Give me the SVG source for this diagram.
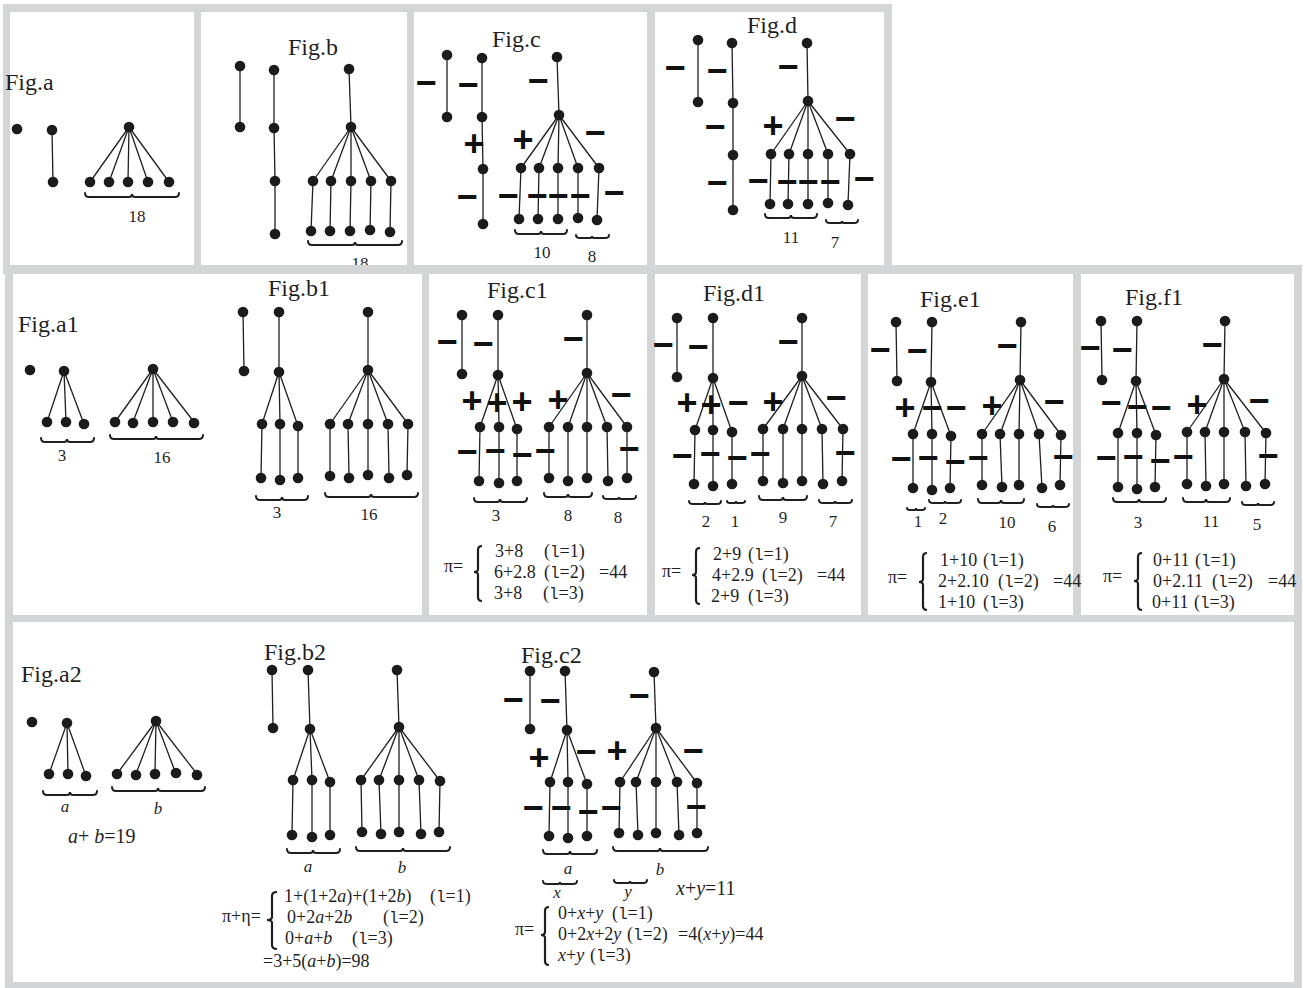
<svg xmlns="http://www.w3.org/2000/svg" width="1307" height="988" viewBox="0 0 1307 988">
<style>
.d{fill:#1b1b1b}
.e{stroke:#1f1f1f;stroke-width:1.3;fill:none}
.br{fill:none;stroke:#1f1f1f;stroke-width:2;stroke-linecap:round}
.cb{fill:none;stroke:#1f1f1f;stroke-width:2.2}
.bd{fill:#d4d5d7}
text{font-family:"Liberation Serif","Times New Roman",serif;fill:#1f1f1f}
.fig{font-size:24px}
.n{font-size:17px;text-anchor:middle}
.s{font-family:"Liberation Sans",Arial,sans-serif;font-weight:bold;font-size:36px;text-anchor:middle;fill:#111}
.f{font-size:18px}
.g{font-size:20px}
.m{font-family:"Liberation Mono","Courier New",monospace;font-size:16px}
.i{font-style:italic}
</style>
<defs>
<clipPath id="clipTop"><rect x="0" y="0" width="1307" height="265"/></clipPath>
</defs>
<rect x="0" y="0" width="1307" height="988" fill="#ffffff"/>
<g id="panels">
<rect class="bd" x="3" y="4" width="889" height="8"/>
<rect class="bd" x="3" y="4" width="7" height="268"/>
<rect class="bd" x="884" y="4" width="8" height="268"/>
<rect class="bd" x="194" y="4" width="7" height="268"/>
<rect class="bd" x="407" y="4" width="7" height="268"/>
<rect class="bd" x="647" y="4" width="8" height="268"/>
<rect class="bd" x="3" y="265" width="1299" height="9"/>
<rect class="bd" x="5" y="265" width="8" height="723"/>
<rect class="bd" x="1294" y="265" width="8" height="723"/>
<rect class="bd" x="422" y="265" width="7" height="357"/>
<rect class="bd" x="647" y="265" width="8" height="357"/>
<rect class="bd" x="861" y="265" width="7" height="357"/>
<rect class="bd" x="1073" y="265" width="8" height="357"/>
<rect class="bd" x="5" y="615" width="1297" height="7"/>
<rect class="bd" x="5" y="982" width="1297" height="6"/>
</g>
<g id="connectors">
<!-- Fig.a -->
<line class="e" x1="52" y1="130" x2="53" y2="182"/>
<line class="e" x1="129" y1="127" x2="90" y2="182"/><line class="e" x1="129" y1="127" x2="109" y2="182"/><line class="e" x1="129" y1="127" x2="128" y2="182"/><line class="e" x1="129" y1="127" x2="148" y2="182"/><line class="e" x1="129" y1="127" x2="169" y2="182"/>
<!-- Fig.b -->
<line class="e" x1="240" y1="66" x2="240" y2="127"/>
<line class="e" x1="274" y1="70" x2="274" y2="128"/><line class="e" x1="274" y1="128" x2="275" y2="181"/><line class="e" x1="275" y1="181" x2="275" y2="234"/>
<line class="e" x1="349" y1="69" x2="351" y2="127"/>
<line class="e" x1="351" y1="127" x2="313" y2="181"/><line class="e" x1="351" y1="127" x2="331" y2="181"/><line class="e" x1="351" y1="127" x2="351" y2="181"/><line class="e" x1="351" y1="127" x2="371" y2="181"/><line class="e" x1="351" y1="127" x2="391" y2="181"/>
<line class="e" x1="313" y1="181" x2="311" y2="231"/><line class="e" x1="331" y1="181" x2="330" y2="231"/><line class="e" x1="351" y1="181" x2="350" y2="231"/><line class="e" x1="371" y1="181" x2="370" y2="231"/><line class="e" x1="391" y1="181" x2="390" y2="231"/>
<!-- Fig.c -->
<line class="e" x1="447" y1="55" x2="447" y2="117"/>
<line class="e" x1="482" y1="58" x2="482" y2="117"/><line class="e" x1="482" y1="117" x2="483" y2="169"/><line class="e" x1="483" y1="169" x2="483" y2="224"/>
<line class="e" x1="557" y1="57" x2="559" y2="115"/>
<line class="e" x1="559" y1="115" x2="521" y2="168"/><line class="e" x1="559" y1="115" x2="539" y2="168"/><line class="e" x1="559" y1="115" x2="558" y2="168"/><line class="e" x1="559" y1="115" x2="578" y2="168"/><line class="e" x1="559" y1="115" x2="599" y2="168"/>
<line class="e" x1="521" y1="168" x2="519" y2="219"/><line class="e" x1="539" y1="168" x2="538" y2="219"/><line class="e" x1="558" y1="168" x2="558" y2="219"/><line class="e" x1="578" y1="168" x2="578" y2="218"/><line class="e" x1="599" y1="168" x2="597" y2="220"/>
<!-- Fig.d -->
<line class="e" x1="698" y1="40" x2="698" y2="102"/>
<line class="e" x1="732" y1="43" x2="733" y2="103"/><line class="e" x1="733" y1="103" x2="733" y2="155"/><line class="e" x1="733" y1="155" x2="733" y2="210"/>
<line class="e" x1="807" y1="43" x2="808" y2="101"/>
<line class="e" x1="808" y1="101" x2="771" y2="154"/><line class="e" x1="808" y1="101" x2="789" y2="154"/><line class="e" x1="808" y1="101" x2="808" y2="154"/><line class="e" x1="808" y1="101" x2="828" y2="154"/><line class="e" x1="808" y1="101" x2="850" y2="154"/>
<line class="e" x1="771" y1="154" x2="770" y2="204"/><line class="e" x1="789" y1="154" x2="788" y2="204"/><line class="e" x1="808" y1="154" x2="808" y2="204"/><line class="e" x1="828" y1="154" x2="828" y2="204"/><line class="e" x1="850" y1="154" x2="848" y2="204"/>
<!-- Fig.a1 -->
<line class="e" x1="64" y1="371" x2="47" y2="422"/><line class="e" x1="64" y1="371" x2="66" y2="422"/><line class="e" x1="64" y1="371" x2="84" y2="424"/>
<line class="e" x1="153" y1="369" x2="115" y2="422"/><line class="e" x1="153" y1="369" x2="133" y2="422"/><line class="e" x1="153" y1="369" x2="153" y2="422"/><line class="e" x1="153" y1="369" x2="173" y2="422"/><line class="e" x1="153" y1="369" x2="194" y2="422"/>
<!-- Fig.b1 -->
<line class="e" x1="243" y1="312" x2="244" y2="371"/>
<line class="e" x1="279" y1="312" x2="279" y2="372"/>
<line class="e" x1="279" y1="372" x2="262" y2="424"/><line class="e" x1="279" y1="372" x2="280" y2="424"/><line class="e" x1="279" y1="372" x2="298" y2="426"/>
<line class="e" x1="262" y1="424" x2="261" y2="478"/><line class="e" x1="280" y1="424" x2="280" y2="480"/><line class="e" x1="298" y1="426" x2="298" y2="478"/>
<line class="e" x1="368" y1="312" x2="368" y2="370"/>
<line class="e" x1="368" y1="370" x2="330" y2="424"/><line class="e" x1="368" y1="370" x2="348" y2="424"/><line class="e" x1="368" y1="370" x2="368" y2="424"/><line class="e" x1="368" y1="370" x2="388" y2="424"/><line class="e" x1="368" y1="370" x2="408" y2="424"/>
<line class="e" x1="330" y1="424" x2="330" y2="476"/><line class="e" x1="348" y1="424" x2="349" y2="478"/><line class="e" x1="368" y1="424" x2="368" y2="475"/><line class="e" x1="388" y1="424" x2="389" y2="478"/><line class="e" x1="408" y1="424" x2="407" y2="475"/>
<!-- Fig.c1 -->
<line class="e" x1="462" y1="315" x2="462" y2="374"/>
<line class="e" x1="498" y1="315" x2="498" y2="375"/>
<line class="e" x1="498" y1="375" x2="480" y2="427"/><line class="e" x1="498" y1="375" x2="499" y2="427"/><line class="e" x1="498" y1="375" x2="517" y2="429"/>
<line class="e" x1="480" y1="427" x2="479" y2="481"/><line class="e" x1="499" y1="427" x2="499" y2="483"/><line class="e" x1="517" y1="429" x2="517" y2="481"/>
<line class="e" x1="587" y1="315" x2="587" y2="373"/>
<line class="e" x1="587" y1="373" x2="549" y2="427"/><line class="e" x1="587" y1="373" x2="568" y2="427"/><line class="e" x1="587" y1="373" x2="587" y2="427"/><line class="e" x1="587" y1="373" x2="607" y2="427"/><line class="e" x1="587" y1="373" x2="627" y2="427"/>
<line class="e" x1="549" y1="427" x2="549" y2="478"/><line class="e" x1="568" y1="427" x2="568" y2="481"/><line class="e" x1="587" y1="427" x2="587" y2="478"/><line class="e" x1="607" y1="427" x2="608" y2="481"/><line class="e" x1="627" y1="427" x2="627" y2="478"/>
<!-- Fig.d1 -->
<line class="e" x1="677" y1="318" x2="677" y2="377"/>
<line class="e" x1="713" y1="318" x2="713" y2="378"/>
<line class="e" x1="713" y1="378" x2="695" y2="430"/><line class="e" x1="713" y1="378" x2="713" y2="430"/><line class="e" x1="713" y1="378" x2="732" y2="432"/>
<line class="e" x1="695" y1="430" x2="694" y2="484"/><line class="e" x1="713" y1="430" x2="713" y2="486"/><line class="e" x1="732" y1="432" x2="732" y2="484"/>
<line class="e" x1="802" y1="318" x2="802" y2="376"/>
<line class="e" x1="802" y1="376" x2="763" y2="429"/><line class="e" x1="802" y1="376" x2="783" y2="429"/><line class="e" x1="802" y1="376" x2="802" y2="429"/><line class="e" x1="802" y1="376" x2="822" y2="429"/><line class="e" x1="802" y1="376" x2="843" y2="429"/>
<line class="e" x1="763" y1="429" x2="763" y2="481"/><line class="e" x1="783" y1="429" x2="783" y2="483"/><line class="e" x1="802" y1="429" x2="802" y2="481"/><line class="e" x1="822" y1="429" x2="823" y2="484"/><line class="e" x1="843" y1="429" x2="842" y2="481"/>
<!-- Fig.e1 -->
<line class="e" x1="896" y1="322" x2="897" y2="381"/>
<line class="e" x1="932" y1="322" x2="931" y2="382"/>
<line class="e" x1="931" y1="382" x2="913" y2="434"/><line class="e" x1="931" y1="382" x2="932" y2="434"/><line class="e" x1="931" y1="382" x2="951" y2="436"/>
<line class="e" x1="913" y1="434" x2="913" y2="488"/><line class="e" x1="932" y1="434" x2="932" y2="490"/><line class="e" x1="951" y1="436" x2="950" y2="488"/>
<line class="e" x1="1021" y1="322" x2="1020" y2="380"/>
<line class="e" x1="1020" y1="380" x2="982" y2="434"/><line class="e" x1="1020" y1="380" x2="1000" y2="434"/><line class="e" x1="1020" y1="380" x2="1019" y2="434"/><line class="e" x1="1020" y1="380" x2="1039" y2="434"/><line class="e" x1="1020" y1="380" x2="1061" y2="435"/>
<line class="e" x1="982" y1="434" x2="982" y2="485"/><line class="e" x1="1000" y1="434" x2="1002" y2="487"/><line class="e" x1="1019" y1="434" x2="1019" y2="485"/><line class="e" x1="1039" y1="434" x2="1042" y2="488"/><line class="e" x1="1061" y1="435" x2="1060" y2="485"/>
<!-- Fig.f1 -->
<line class="e" x1="1101" y1="321" x2="1102" y2="380"/>
<line class="e" x1="1137" y1="321" x2="1136" y2="381"/>
<line class="e" x1="1136" y1="381" x2="1118" y2="433"/><line class="e" x1="1136" y1="381" x2="1137" y2="433"/><line class="e" x1="1136" y1="381" x2="1156" y2="435"/>
<line class="e" x1="1118" y1="433" x2="1118" y2="487"/><line class="e" x1="1137" y1="433" x2="1137" y2="489"/><line class="e" x1="1156" y1="435" x2="1155" y2="487"/>
<line class="e" x1="1225" y1="321" x2="1224" y2="379"/>
<line class="e" x1="1224" y1="379" x2="1187" y2="432"/><line class="e" x1="1224" y1="379" x2="1205" y2="432"/><line class="e" x1="1224" y1="379" x2="1224" y2="432"/><line class="e" x1="1224" y1="379" x2="1245" y2="432"/><line class="e" x1="1224" y1="379" x2="1266" y2="433"/>
<line class="e" x1="1187" y1="432" x2="1187" y2="484"/><line class="e" x1="1205" y1="432" x2="1206" y2="486"/><line class="e" x1="1224" y1="432" x2="1224" y2="484"/><line class="e" x1="1245" y1="432" x2="1246" y2="486"/><line class="e" x1="1266" y1="433" x2="1265" y2="484"/>
<!-- Fig.a2 -->
<line class="e" x1="67" y1="723" x2="49" y2="774"/><line class="e" x1="67" y1="723" x2="68" y2="774"/><line class="e" x1="67" y1="723" x2="86" y2="776"/>
<line class="e" x1="156" y1="721" x2="117" y2="774"/><line class="e" x1="156" y1="721" x2="136" y2="774"/><line class="e" x1="156" y1="721" x2="155" y2="774"/><line class="e" x1="156" y1="721" x2="176" y2="774"/><line class="e" x1="156" y1="721" x2="197" y2="774"/>
<!-- Fig.b2 -->
<line class="e" x1="272" y1="670" x2="273" y2="728"/>
<line class="e" x1="308" y1="670" x2="310" y2="729"/>
<line class="e" x1="310" y1="729" x2="293" y2="780"/><line class="e" x1="310" y1="729" x2="312" y2="780"/><line class="e" x1="310" y1="729" x2="330" y2="782"/>
<line class="e" x1="293" y1="780" x2="292" y2="835"/><line class="e" x1="312" y1="780" x2="312" y2="837"/><line class="e" x1="330" y1="782" x2="330" y2="835"/>
<line class="e" x1="397" y1="670" x2="399" y2="727"/>
<line class="e" x1="399" y1="727" x2="361" y2="780"/><line class="e" x1="399" y1="727" x2="379" y2="780"/><line class="e" x1="399" y1="727" x2="399" y2="780"/><line class="e" x1="399" y1="727" x2="419" y2="780"/><line class="e" x1="399" y1="727" x2="440" y2="781"/>
<line class="e" x1="361" y1="780" x2="362" y2="832"/><line class="e" x1="379" y1="780" x2="381" y2="834"/><line class="e" x1="399" y1="780" x2="399" y2="832"/><line class="e" x1="419" y1="780" x2="421" y2="834"/><line class="e" x1="440" y1="781" x2="439" y2="832"/>
<!-- Fig.c2 -->
<line class="e" x1="530" y1="671" x2="530" y2="729"/>
<line class="e" x1="565" y1="671" x2="567" y2="730"/>
<line class="e" x1="567" y1="730" x2="550" y2="782"/><line class="e" x1="567" y1="730" x2="568" y2="782"/><line class="e" x1="567" y1="730" x2="587" y2="784"/>
<line class="e" x1="550" y1="782" x2="549" y2="836"/><line class="e" x1="568" y1="782" x2="568" y2="838"/><line class="e" x1="587" y1="784" x2="587" y2="836"/>
<line class="e" x1="654" y1="672" x2="656" y2="728"/>
<line class="e" x1="656" y1="728" x2="620" y2="782"/><line class="e" x1="656" y1="728" x2="636" y2="782"/><line class="e" x1="656" y1="728" x2="656" y2="782"/><line class="e" x1="656" y1="728" x2="677" y2="782"/><line class="e" x1="656" y1="728" x2="697" y2="783"/>
<line class="e" x1="620" y1="782" x2="619" y2="833"/><line class="e" x1="636" y1="782" x2="638" y2="835"/><line class="e" x1="656" y1="782" x2="656" y2="833"/><line class="e" x1="677" y1="782" x2="679" y2="835"/><line class="e" x1="697" y1="783" x2="697" y2="833"/>
</g>
<g id="braces">
<path class="br" d="M85 193 Q85 197 89 197 L129 197 Q132 197 132 194 Q132 197 135 197 L175 197 Q179 197 179 193"/>
<path class="br" d="M308 241 Q308 245 312 245 L352 245 Q355 245 355 242 Q355 245 358 245 L398 245 Q402 245 402 241"/>
<path class="br" d="M515 230 Q515 234 519 234 L538 234 Q541 234 541 231 Q541 234 544 234 L563 234 Q567 234 567 230"/>
<path class="br" d="M576 235 Q576 238 580 238 L590 238 Q592 238 592 236 Q592 238 594 238 L605 238 Q609 238 609 235"/>
<path class="br" d="M765 214 Q765 218 769 218 L788 218 Q791 218 791 215 Q791 218 794 218 L813 218 Q817 218 817 214"/>
<path class="br" d="M826 220 Q826 223 830 223 L840 223 Q842 223 842 221 Q842 223 844 223 L854 223 Q858 223 858 220"/>
<path class="br" d="M41 438 Q41 442 45 442 L64 442 Q67 442 67 439 Q67 442 70 442 L90 442 Q94 442 94 438"/>
<path class="br" d="M110 435 Q110 439 114 439 L153 439 Q156 439 156 436 Q156 439 159 439 L199 439 Q203 439 203 435"/>
<path class="br" d="M256 496 Q256 500 260 500 L279 500 Q282 500 282 497 Q282 500 285 500 L304 500 Q308 500 308 496"/>
<path class="br" d="M325 493 Q325 497 329 497 L368 497 Q371 497 371 494 Q371 497 374 497 L414 497 Q418 497 418 493"/>
<path class="br" d="M474 498 Q474 502 478 502 L497 502 Q500 502 500 499 Q500 502 503 502 L523 502 Q527 502 527 498"/>
<path class="br" d="M544 493 Q544 497 548 497 L565 497 Q568 497 568 494 Q568 497 571 497 L588 497 Q592 497 592 493"/>
<path class="br" d="M603 496 Q603 499 607 499 L617 499 Q619 499 619 497 Q619 499 621 499 L632 499 Q636 499 636 496"/>
<path class="br" d="M689 501 Q689 504 693 504 L703 504 Q705 504 705 502 Q705 504 707 504 L717 504 Q721 504 721 501"/>
<path class="br" d="M727 501 Q727 503 730 503 L735 503 Q736 503 736 501 Q736 503 737 503 L742 503 Q745 503 745 501"/>
<path class="br" d="M759 496 Q759 500 763 500 L780 500 Q783 500 783 497 Q783 500 786 500 L803 500 Q807 500 807 496"/>
<path class="br" d="M819 500 Q819 503 823 503 L833 503 Q835 503 835 501 Q835 503 837 503 L848 503 Q852 503 852 500"/>
<path class="br" d="M907 508 Q907 510 910 510 L915 510 Q916 510 916 508 Q916 510 917 510 L922 510 Q925 510 925 508"/>
<path class="br" d="M929 500 Q929 503 933 503 L943 503 Q945 503 945 501 Q945 503 947 503 L957 503 Q961 503 961 500"/>
<path class="br" d="M978 499 Q978 503 982 503 L998 503 Q1001 503 1001 500 Q1001 503 1004 503 L1020 503 Q1024 503 1024 499"/>
<path class="br" d="M1037 504 Q1037 507 1041 507 L1051 507 Q1053 507 1053 505 Q1053 507 1055 507 L1065 507 Q1069 507 1069 504"/>
<path class="br" d="M1113 498 Q1113 502 1117 502 L1136 502 Q1139 502 1139 499 Q1139 502 1142 502 L1162 502 Q1166 502 1166 498"/>
<path class="br" d="M1183 498 Q1183 502 1187 502 L1203 502 Q1206 502 1206 499 Q1206 502 1209 502 L1226 502 Q1230 502 1230 498"/>
<path class="br" d="M1242 502 Q1242 505 1246 505 L1256 505 Q1258 505 1258 503 Q1258 505 1260 505 L1270 505 Q1274 505 1274 502"/>
<path class="br" d="M43 791 Q43 795 47 795 L67 795 Q70 795 70 792 Q70 795 73 795 L93 795 Q97 795 97 791"/>
<path class="br" d="M112 787 Q112 791 116 791 L155 791 Q158 791 158 788 Q158 791 161 791 L201 791 Q205 791 205 787"/>
<path class="br" d="M287 849 Q287 853 291 853 L310 853 Q313 853 313 850 Q313 853 316 853 L336 853 Q340 853 340 849"/>
<path class="br" d="M356 847 Q356 851 360 851 L400 851 Q403 851 403 848 Q403 851 406 851 L446 851 Q450 851 450 847"/>
<path class="br" d="M543 850 Q543 854 547 854 L567 854 Q570 854 570 851 Q570 854 573 854 L593 854 Q597 854 597 850"/>
<path class="br" d="M613 847 Q613 851 617 851 L657 851 Q660 851 660 848 Q660 851 663 851 L704 851 Q708 851 708 847"/>
<path class="br" d="M543 881 Q543 884 547 884 L558 884 Q560 884 560 882 Q560 884 562 884 L573 884 Q577 884 577 881"/>
<path class="br" d="M614 880 Q614 883 618 883 L628 883 Q630 883 630 881 Q630 883 632 883 L643 883 Q647 883 647 880"/>
<path class="cb" d="M482 546 Q478 546 478 550 L478 569 Q478 572 474 572 Q478 572 478 575 L478 597 Q478 601 482 601"/>
<path class="cb" d="M700 548 Q696 548 696 552 L696 572 Q696 575 692 575 Q696 575 696 578 L696 600 Q696 604 700 604"/>
<path class="cb" d="M927 553 Q923 553 923 557 L923 579 Q923 582 919 582 Q923 582 923 585 L923 606 Q923 610 927 610"/>
<path class="cb" d="M1142 553 Q1138 553 1138 557 L1138 578 Q1138 581 1134 581 Q1138 581 1138 584 L1138 606 Q1138 610 1142 610"/>
<path class="cb" d="M277 892 Q272 892 272 896 L272 917 Q272 920 267 920 Q272 920 272 923 L272 945 Q272 949 277 949"/>
<path class="cb" d="M549 907 Q545 907 545 911 L545 932 Q545 935 541 935 Q545 935 545 938 L545 961 Q545 965 549 965"/>
</g>
<g id="fig-a">
<text class="fig" x="5" y="90">Fig.a</text>
<g id="a-n1"><circle class="d" cx="17" cy="129" r="5.3"/></g>
<g id="a-n2"><circle class="d" cx="52" cy="130" r="5.3"/></g>
<g id="a-n3"><circle class="d" cx="53" cy="182" r="5.3"/></g>
<g id="a-c"><circle class="d" cx="129" cy="127" r="5.3"/></g>
<g id="a-l1"><circle class="d" cx="90" cy="182" r="5.3"/></g>
<g id="a-l2"><circle class="d" cx="109" cy="182" r="5.3"/></g>
<g id="a-l3"><circle class="d" cx="128" cy="182" r="5.3"/></g>
<g id="a-l4"><circle class="d" cx="148" cy="182" r="5.3"/></g>
<g id="a-l5"><circle class="d" cx="169" cy="182" r="5.3"/></g>
<text class="n" x="137" y="222">18</text>
</g>
<g id="fig-b">
<text class="fig" x="288" y="55">Fig.b</text>
<g id="b-p1"><circle class="d" cx="240" cy="66" r="5.3"/></g>
<g id="b-p2"><circle class="d" cx="240" cy="127" r="5.3"/></g>
<g id="b-q1"><circle class="d" cx="274" cy="70" r="5.3"/></g>
<g id="b-q2"><circle class="d" cx="274" cy="128" r="5.3"/></g>
<g id="b-q3"><circle class="d" cx="275" cy="181" r="5.3"/></g>
<g id="b-q4"><circle class="d" cx="275" cy="234" r="5.3"/></g>
<g id="b-t"><circle class="d" cx="349" cy="69" r="5.3"/></g>
<g id="b-c"><circle class="d" cx="351" cy="127" r="5.3"/></g>
<g id="b-l1"><circle class="d" cx="313" cy="181" r="5.3"/></g>
<g id="b-l2"><circle class="d" cx="331" cy="181" r="5.3"/></g>
<g id="b-l3"><circle class="d" cx="351" cy="181" r="5.3"/></g>
<g id="b-l4"><circle class="d" cx="371" cy="181" r="5.3"/></g>
<g id="b-l5"><circle class="d" cx="391" cy="181" r="5.3"/></g>
<g id="b-m1"><circle class="d" cx="311" cy="231" r="5.3"/></g>
<g id="b-m2"><circle class="d" cx="330" cy="231" r="5.3"/></g>
<g id="b-m3"><circle class="d" cx="350" cy="231" r="5.3"/></g>
<g id="b-m4"><circle class="d" cx="370" cy="230" r="5.3"/></g>
<g id="b-m5"><circle class="d" cx="390" cy="232" r="5.3"/></g>
<text class="n" x="360" y="269" clip-path="url(#clipTop)">18</text>
</g>
<g id="fig-c">
<text class="fig" x="492" y="47">Fig.c</text>
<g id="c-p1"><circle class="d" cx="447" cy="55" r="5.3"/></g>
<g id="c-p2"><circle class="d" cx="447" cy="117" r="5.3"/></g>
<g id="c-q1"><circle class="d" cx="482" cy="58" r="5.3"/></g>
<g id="c-q2"><circle class="d" cx="482" cy="117" r="5.3"/></g>
<g id="c-q3"><circle class="d" cx="483" cy="169" r="5.3"/></g>
<g id="c-q4"><circle class="d" cx="483" cy="224" r="5.3"/></g>
<g id="c-t"><circle class="d" cx="557" cy="57" r="5.3"/></g>
<g id="c-c"><circle class="d" cx="559" cy="115" r="5.3"/></g>
<g id="c-l1"><circle class="d" cx="521" cy="168" r="5.3"/></g>
<g id="c-l2"><circle class="d" cx="539" cy="168" r="5.3"/></g>
<g id="c-l3"><circle class="d" cx="558" cy="168" r="5.3"/></g>
<g id="c-l4"><circle class="d" cx="578" cy="168" r="5.3"/></g>
<g id="c-l5"><circle class="d" cx="599" cy="168" r="5.3"/></g>
<g id="c-m1"><circle class="d" cx="519" cy="219" r="5.3"/></g>
<g id="c-m2"><circle class="d" cx="538" cy="219" r="5.3"/></g>
<g id="c-m3"><circle class="d" cx="558" cy="219" r="5.3"/></g>
<g id="c-m4"><circle class="d" cx="578" cy="218" r="5.3"/></g>
<g id="c-m5"><circle class="d" cx="597" cy="220" r="5.3"/></g>
<text class="n" x="542" y="258">10</text>
<text class="n" x="592" y="262">8</text>
<text class="s" x="426" y="95">−</text>
<text class="s" x="468" y="97">−</text>
<text class="s" x="538" y="93">−</text>
<text class="s" x="474" y="156">+</text>
<text class="s" x="523" y="152">+</text>
<text class="s" x="595" y="145">−</text>
<text class="s" x="467" y="209">−</text>
<text class="s" x="508" y="208">−</text>
<text class="s" x="537" y="208">−</text>
<text class="s" x="558" y="208">−</text>
<text class="s" x="580" y="208">−</text>
<text class="s" x="614" y="205">−</text>
</g>
<g id="fig-d">
<text class="fig" x="747" y="33">Fig.d</text>
<g id="d-p1"><circle class="d" cx="698" cy="40" r="5.3"/></g>
<g id="d-p2"><circle class="d" cx="698" cy="102" r="5.3"/></g>
<g id="d-q1"><circle class="d" cx="732" cy="43" r="5.3"/></g>
<g id="d-q2"><circle class="d" cx="733" cy="103" r="5.3"/></g>
<g id="d-q3"><circle class="d" cx="733" cy="155" r="5.3"/></g>
<g id="d-q4"><circle class="d" cx="733" cy="210" r="5.3"/></g>
<g id="d-t"><circle class="d" cx="807" cy="43" r="5.3"/></g>
<g id="d-c"><circle class="d" cx="808" cy="101" r="5.3"/></g>
<g id="d-l1"><circle class="d" cx="771" cy="154" r="5.3"/></g>
<g id="d-l2"><circle class="d" cx="789" cy="154" r="5.3"/></g>
<g id="d-l3"><circle class="d" cx="808" cy="154" r="5.3"/></g>
<g id="d-l4"><circle class="d" cx="828" cy="154" r="5.3"/></g>
<g id="d-l5"><circle class="d" cx="850" cy="154" r="5.3"/></g>
<g id="d-m1"><circle class="d" cx="770" cy="204" r="5.3"/></g>
<g id="d-m2"><circle class="d" cx="788" cy="204" r="5.3"/></g>
<g id="d-m3"><circle class="d" cx="808" cy="204" r="5.3"/></g>
<g id="d-m4"><circle class="d" cx="828" cy="203" r="5.3"/></g>
<g id="d-m5"><circle class="d" cx="848" cy="205" r="5.3"/></g>
<text class="n" x="791" y="243">11</text>
<text class="n" x="835" y="248">7</text>
<text class="s" x="675" y="80">−</text>
<text class="s" x="717" y="83">−</text>
<text class="s" x="788" y="79">−</text>
<text class="s" x="715" y="139">−</text>
<text class="s" x="773" y="138">+</text>
<text class="s" x="845" y="131">−</text>
<text class="s" x="717" y="195">−</text>
<text class="s" x="758" y="193">−</text>
<text class="s" x="787" y="194">−</text>
<text class="s" x="808" y="194">−</text>
<text class="s" x="830" y="194">−</text>
<text class="s" x="864" y="191">−</text>
</g>
<g id="fig-a1">
<text class="fig" x="18" y="332">Fig.a1</text>
<g id="a1-n"><circle class="d" cx="30" cy="370" r="5.3"/></g>
<g id="a1-t3"><circle class="d" cx="64" cy="371" r="5.3"/></g>
<g id="a1-l1"><circle class="d" cx="47" cy="422" r="5.3"/></g>
<g id="a1-l2"><circle class="d" cx="66" cy="422" r="5.3"/></g>
<g id="a1-l3"><circle class="d" cx="84" cy="424" r="5.3"/></g>
<g id="a1-t5"><circle class="d" cx="153" cy="369" r="5.3"/></g>
<g id="a1-k1"><circle class="d" cx="115" cy="422" r="5.3"/></g>
<g id="a1-k2"><circle class="d" cx="133" cy="423" r="5.3"/></g>
<g id="a1-k3"><circle class="d" cx="153" cy="422" r="5.3"/></g>
<g id="a1-k4"><circle class="d" cx="173" cy="422" r="5.3"/></g>
<g id="a1-k5"><circle class="d" cx="194" cy="423" r="5.3"/></g>
<text class="n" x="62" y="461">3</text>
<text class="n" x="162" y="463">16</text>
</g>
<g id="fig-b1">
<text class="fig" x="268" y="296">Fig.b1</text>
<g id="b1-p1"><circle class="d" cx="243" cy="312" r="5.3"/></g>
<g id="b1-p2"><circle class="d" cx="244" cy="371" r="5.3"/></g>
<g id="b1-t3"><circle class="d" cx="279" cy="312" r="5.3"/></g>
<g id="b1-c3"><circle class="d" cx="279" cy="372" r="5.3"/></g>
<g id="b1-l1"><circle class="d" cx="262" cy="424" r="5.3"/></g>
<g id="b1-l2"><circle class="d" cx="280" cy="424" r="5.3"/></g>
<g id="b1-l3"><circle class="d" cx="298" cy="426" r="5.3"/></g>
<g id="b1-m1"><circle class="d" cx="261" cy="478" r="5.3"/></g>
<g id="b1-m2"><circle class="d" cx="280" cy="480" r="5.3"/></g>
<g id="b1-m3"><circle class="d" cx="298" cy="478" r="5.3"/></g>
<g id="b1-t5"><circle class="d" cx="368" cy="312" r="5.3"/></g>
<g id="b1-c5"><circle class="d" cx="368" cy="370" r="5.3"/></g>
<g id="b1-k1"><circle class="d" cx="330" cy="424" r="5.3"/></g>
<g id="b1-k2"><circle class="d" cx="348" cy="424" r="5.3"/></g>
<g id="b1-k3"><circle class="d" cx="368" cy="424" r="5.3"/></g>
<g id="b1-k4"><circle class="d" cx="388" cy="424" r="5.3"/></g>
<g id="b1-k5"><circle class="d" cx="408" cy="424" r="5.3"/></g>
<g id="b1-j1"><circle class="d" cx="330" cy="476" r="5.3"/></g>
<g id="b1-j2"><circle class="d" cx="349" cy="478" r="5.3"/></g>
<g id="b1-j3"><circle class="d" cx="368" cy="475" r="5.3"/></g>
<g id="b1-j4"><circle class="d" cx="389" cy="478" r="5.3"/></g>
<g id="b1-j5"><circle class="d" cx="407" cy="475" r="5.3"/></g>
<text class="n" x="277" y="518">3</text>
<text class="n" x="369" y="520">16</text>
</g>
<g id="fig-c1">
<text class="fig" x="487" y="298">Fig.c1</text>
<g id="c1-p1"><circle class="d" cx="462" cy="315" r="5.3"/></g>
<g id="c1-p2"><circle class="d" cx="462" cy="374" r="5.3"/></g>
<g id="c1-t3"><circle class="d" cx="498" cy="315" r="5.3"/></g>
<g id="c1-c3"><circle class="d" cx="498" cy="375" r="5.3"/></g>
<g id="c1-l1"><circle class="d" cx="480" cy="427" r="5.3"/></g>
<g id="c1-l2"><circle class="d" cx="499" cy="427" r="5.3"/></g>
<g id="c1-l3"><circle class="d" cx="517" cy="429" r="5.3"/></g>
<g id="c1-m1"><circle class="d" cx="479" cy="481" r="5.3"/></g>
<g id="c1-m2"><circle class="d" cx="499" cy="483" r="5.3"/></g>
<g id="c1-m3"><circle class="d" cx="517" cy="481" r="5.3"/></g>
<g id="c1-t5"><circle class="d" cx="587" cy="315" r="5.3"/></g>
<g id="c1-c5"><circle class="d" cx="587" cy="373" r="5.3"/></g>
<g id="c1-k1"><circle class="d" cx="549" cy="427" r="5.3"/></g>
<g id="c1-k2"><circle class="d" cx="568" cy="427" r="5.3"/></g>
<g id="c1-k3"><circle class="d" cx="587" cy="427" r="5.3"/></g>
<g id="c1-k4"><circle class="d" cx="607" cy="427" r="5.3"/></g>
<g id="c1-k5"><circle class="d" cx="627" cy="427" r="5.3"/></g>
<g id="c1-j1"><circle class="d" cx="549" cy="478" r="5.3"/></g>
<g id="c1-j2"><circle class="d" cx="568" cy="481" r="5.3"/></g>
<g id="c1-j3"><circle class="d" cx="587" cy="478" r="5.3"/></g>
<g id="c1-j4"><circle class="d" cx="608" cy="481" r="5.3"/></g>
<g id="c1-j5"><circle class="d" cx="627" cy="478" r="5.3"/></g>
<text class="n" x="496" y="521">3</text>
<text class="n" x="568" y="521">8</text>
<text class="n" x="618" y="523">8</text>
<text class="s" x="447" y="354">−</text>
<text class="s" x="483" y="356">−</text>
<text class="s" x="573" y="351">−</text>
<text class="s" x="472" y="413">+</text>
<text class="s" x="497" y="415">+</text>
<text class="s" x="522" y="414">+</text>
<text class="s" x="558" y="412">+</text>
<text class="s" x="621" y="407">−</text>
<text class="s" x="467" y="464">−</text>
<text class="s" x="495" y="463">−</text>
<text class="s" x="522" y="467">−</text>
<text class="s" x="545" y="463">−</text>
<text class="s" x="629" y="461">−</text>
<text class="f"><tspan x="444" y="572">π=</tspan><tspan x="495" y="557">3+8</tspan><tspan x="544" y="557">(<tspan class="m">l</tspan>=1)</tspan><tspan x="494" y="578">6+2.8</tspan><tspan x="544" y="578">(<tspan class="m">l</tspan>=2)</tspan><tspan x="599" y="578">=44</tspan><tspan x="494" y="599">3+8</tspan><tspan x="543" y="599">(<tspan class="m">l</tspan>=3)</tspan></text>
</g>
<g id="fig-d1">
<text class="fig" x="703" y="301">Fig.d1</text>
<g id="d1-p1"><circle class="d" cx="677" cy="318" r="5.3"/></g>
<g id="d1-p2"><circle class="d" cx="677" cy="377" r="5.3"/></g>
<g id="d1-t3"><circle class="d" cx="713" cy="318" r="5.3"/></g>
<g id="d1-c3"><circle class="d" cx="713" cy="378" r="5.3"/></g>
<g id="d1-l1"><circle class="d" cx="695" cy="430" r="5.3"/></g>
<g id="d1-l2"><circle class="d" cx="713" cy="430" r="5.3"/></g>
<g id="d1-l3"><circle class="d" cx="732" cy="432" r="5.3"/></g>
<g id="d1-m1"><circle class="d" cx="694" cy="484" r="5.3"/></g>
<g id="d1-m2"><circle class="d" cx="713" cy="486" r="5.3"/></g>
<g id="d1-m3"><circle class="d" cx="732" cy="484" r="5.3"/></g>
<g id="d1-t5"><circle class="d" cx="802" cy="318" r="5.3"/></g>
<g id="d1-c5"><circle class="d" cx="802" cy="376" r="5.3"/></g>
<g id="d1-k1"><circle class="d" cx="763" cy="429" r="5.3"/></g>
<g id="d1-k2"><circle class="d" cx="783" cy="429" r="5.3"/></g>
<g id="d1-k3"><circle class="d" cx="802" cy="429" r="5.3"/></g>
<g id="d1-k4"><circle class="d" cx="822" cy="429" r="5.3"/></g>
<g id="d1-k5"><circle class="d" cx="843" cy="429" r="5.3"/></g>
<g id="d1-j1"><circle class="d" cx="763" cy="481" r="5.3"/></g>
<g id="d1-j2"><circle class="d" cx="783" cy="483" r="5.3"/></g>
<g id="d1-j3"><circle class="d" cx="802" cy="481" r="5.3"/></g>
<g id="d1-j4"><circle class="d" cx="823" cy="484" r="5.3"/></g>
<g id="d1-j5"><circle class="d" cx="842" cy="481" r="5.3"/></g>
<text class="n" x="706" y="527">2</text>
<text class="n" x="735" y="527">1</text>
<text class="n" x="783" y="523">9</text>
<text class="n" x="833" y="527">7</text>
<text class="s" x="663" y="357">−</text>
<text class="s" x="698" y="359">−</text>
<text class="s" x="788" y="354">−</text>
<text class="s" x="687" y="415">+</text>
<text class="s" x="711" y="417">+</text>
<text class="s" x="738" y="415">−</text>
<text class="s" x="773" y="414">+</text>
<text class="s" x="836" y="410">−</text>
<text class="s" x="682" y="468">−</text>
<text class="s" x="710" y="466">−</text>
<text class="s" x="737" y="470">−</text>
<text class="s" x="760" y="466">−</text>
<text class="s" x="845" y="465">−</text>
<text class="f"><tspan x="662" y="577">π=</tspan><tspan x="713" y="560">2+9</tspan><tspan x="748" y="560">(<tspan class="m">l</tspan>=1)</tspan><tspan x="712" y="581">4+2.9</tspan><tspan x="762" y="581">(<tspan class="m">l</tspan>=2)</tspan><tspan x="817" y="581">=44</tspan><tspan x="711" y="602">2+9</tspan><tspan x="748" y="602">(<tspan class="m">l</tspan>=3)</tspan></text>
</g>
<g id="fig-e1">
<text class="fig" x="920" y="307">Fig.e1</text>
<g id="e1-p1"><circle class="d" cx="896" cy="322" r="5.3"/></g>
<g id="e1-p2"><circle class="d" cx="897" cy="381" r="5.3"/></g>
<g id="e1-t3"><circle class="d" cx="932" cy="322" r="5.3"/></g>
<g id="e1-c3"><circle class="d" cx="931" cy="382" r="5.3"/></g>
<g id="e1-l1"><circle class="d" cx="913" cy="434" r="5.3"/></g>
<g id="e1-l2"><circle class="d" cx="932" cy="434" r="5.3"/></g>
<g id="e1-l3"><circle class="d" cx="951" cy="436" r="5.3"/></g>
<g id="e1-m1"><circle class="d" cx="913" cy="488" r="5.3"/></g>
<g id="e1-m2"><circle class="d" cx="932" cy="490" r="5.3"/></g>
<g id="e1-m3"><circle class="d" cx="950" cy="488" r="5.3"/></g>
<g id="e1-t5"><circle class="d" cx="1021" cy="322" r="5.3"/></g>
<g id="e1-c5"><circle class="d" cx="1020" cy="380" r="5.3"/></g>
<g id="e1-k1"><circle class="d" cx="982" cy="434" r="5.3"/></g>
<g id="e1-k2"><circle class="d" cx="1000" cy="434" r="5.3"/></g>
<g id="e1-k3"><circle class="d" cx="1019" cy="434" r="5.3"/></g>
<g id="e1-k4"><circle class="d" cx="1039" cy="434" r="5.3"/></g>
<g id="e1-k5"><circle class="d" cx="1061" cy="435" r="5.3"/></g>
<g id="e1-j1"><circle class="d" cx="982" cy="485" r="5.3"/></g>
<g id="e1-j2"><circle class="d" cx="1002" cy="487" r="5.3"/></g>
<g id="e1-j3"><circle class="d" cx="1019" cy="485" r="5.3"/></g>
<g id="e1-j4"><circle class="d" cx="1042" cy="488" r="5.3"/></g>
<g id="e1-j5"><circle class="d" cx="1060" cy="485" r="5.3"/></g>
<text class="n" x="918" y="527">1</text>
<text class="n" x="943" y="524">2</text>
<text class="n" x="1007" y="528">10</text>
<text class="n" x="1052" y="532">6</text>
<text class="s" x="880" y="362">−</text>
<text class="s" x="917" y="363">−</text>
<text class="s" x="1007" y="358">−</text>
<text class="s" x="905" y="420">+</text>
<text class="s" x="932" y="420">−</text>
<text class="s" x="956" y="420">−</text>
<text class="s" x="992" y="418">+</text>
<text class="s" x="1054" y="414">−</text>
<text class="s" x="901" y="471">−</text>
<text class="s" x="928" y="470">−</text>
<text class="s" x="955" y="474">−</text>
<text class="s" x="978" y="470">−</text>
<text class="s" x="1063" y="469">−</text>
<text class="f"><tspan x="888" y="583">π=</tspan><tspan x="940" y="566">1+10</tspan><tspan x="983" y="566">(<tspan class="m">l</tspan>=1)</tspan><tspan x="938" y="587">2+2.10</tspan><tspan x="998" y="587">(<tspan class="m">l</tspan>=2)</tspan><tspan x="1053" y="587">=44</tspan><tspan x="938" y="608">1+10</tspan><tspan x="983" y="608">(<tspan class="m">l</tspan>=3)</tspan></text>
</g>
<g id="fig-f1">
<text class="fig" x="1125" y="305">Fig.f1</text>
<g id="f1-p1"><circle class="d" cx="1101" cy="321" r="5.3"/></g>
<g id="f1-p2"><circle class="d" cx="1102" cy="380" r="5.3"/></g>
<g id="f1-t3"><circle class="d" cx="1137" cy="321" r="5.3"/></g>
<g id="f1-c3"><circle class="d" cx="1136" cy="381" r="5.3"/></g>
<g id="f1-l1"><circle class="d" cx="1118" cy="433" r="5.3"/></g>
<g id="f1-l2"><circle class="d" cx="1137" cy="433" r="5.3"/></g>
<g id="f1-l3"><circle class="d" cx="1156" cy="435" r="5.3"/></g>
<g id="f1-m1"><circle class="d" cx="1118" cy="487" r="5.3"/></g>
<g id="f1-m2"><circle class="d" cx="1137" cy="489" r="5.3"/></g>
<g id="f1-m3"><circle class="d" cx="1155" cy="487" r="5.3"/></g>
<g id="f1-t5"><circle class="d" cx="1225" cy="321" r="5.3"/></g>
<g id="f1-c5"><circle class="d" cx="1224" cy="379" r="5.3"/></g>
<g id="f1-k1"><circle class="d" cx="1187" cy="432" r="5.3"/></g>
<g id="f1-k2"><circle class="d" cx="1205" cy="432" r="5.3"/></g>
<g id="f1-k3"><circle class="d" cx="1224" cy="432" r="5.3"/></g>
<g id="f1-k4"><circle class="d" cx="1245" cy="432" r="5.3"/></g>
<g id="f1-k5"><circle class="d" cx="1266" cy="433" r="5.3"/></g>
<g id="f1-j1"><circle class="d" cx="1187" cy="484" r="5.3"/></g>
<g id="f1-j2"><circle class="d" cx="1206" cy="486" r="5.3"/></g>
<g id="f1-j3"><circle class="d" cx="1224" cy="484" r="5.3"/></g>
<g id="f1-j4"><circle class="d" cx="1246" cy="486" r="5.3"/></g>
<g id="f1-j5"><circle class="d" cx="1265" cy="484" r="5.3"/></g>
<text class="n" x="1138" y="528">3</text>
<text class="n" x="1211" y="527">11</text>
<text class="n" x="1257" y="530">5</text>
<text class="s" x="1090" y="360">−</text>
<text class="s" x="1122" y="362">−</text>
<text class="s" x="1212" y="357">−</text>
<text class="s" x="1111" y="415">−</text>
<text class="s" x="1137" y="419">−</text>
<text class="s" x="1161" y="420">−</text>
<text class="s" x="1197" y="417">+</text>
<text class="s" x="1259" y="413">−</text>
<text class="s" x="1106" y="470">−</text>
<text class="s" x="1133" y="469">−</text>
<text class="s" x="1160" y="473">−</text>
<text class="s" x="1183" y="469">−</text>
<text class="s" x="1268" y="468">−</text>
<text class="f"><tspan x="1103" y="582">π=</tspan><tspan x="1153" y="566">0+11</tspan><tspan x="1195" y="566">(<tspan class="m">l</tspan>=1)</tspan><tspan x="1153" y="587">0+2.11</tspan><tspan x="1212" y="587">(<tspan class="m">l</tspan>=2)</tspan><tspan x="1268" y="587">=44</tspan><tspan x="1152" y="608">0+11</tspan><tspan x="1194" y="608">(<tspan class="m">l</tspan>=3)</tspan></text>
</g>
<g id="fig-a2">
<text class="fig" x="21" y="682">Fig.a2</text>
<g id="a2-n"><circle class="d" cx="32" cy="722" r="5.3"/></g>
<g id="a2-t3"><circle class="d" cx="67" cy="723" r="5.3"/></g>
<g id="a2-l1"><circle class="d" cx="49" cy="774" r="5.3"/></g>
<g id="a2-l2"><circle class="d" cx="68" cy="774" r="5.3"/></g>
<g id="a2-l3"><circle class="d" cx="86" cy="776" r="5.3"/></g>
<g id="a2-t5"><circle class="d" cx="156" cy="721" r="5.3"/></g>
<g id="a2-k1"><circle class="d" cx="117" cy="774" r="5.3"/></g>
<g id="a2-k2"><circle class="d" cx="136" cy="775" r="5.3"/></g>
<g id="a2-k3"><circle class="d" cx="155" cy="774" r="5.3"/></g>
<g id="a2-k4"><circle class="d" cx="176" cy="773" r="5.3"/></g>
<g id="a2-k5"><circle class="d" cx="197" cy="775" r="5.3"/></g>
<text class="n i" x="65" y="812" font-size="19">a</text>
<text class="n i" x="158" y="814" font-size="19">b</text>
<text class="g" x="68" y="843"><tspan class="i">a</tspan>+ <tspan class="i">b</tspan>=19</text>
</g>
<g id="fig-b2">
<text class="fig" x="264" y="660">Fig.b2</text>
<g id="b2-p1"><circle class="d" cx="272" cy="670" r="5.3"/></g>
<g id="b2-p2"><circle class="d" cx="273" cy="728" r="5.3"/></g>
<g id="b2-t3"><circle class="d" cx="308" cy="670" r="5.3"/></g>
<g id="b2-c3"><circle class="d" cx="310" cy="729" r="5.3"/></g>
<g id="b2-l1"><circle class="d" cx="293" cy="780" r="5.3"/></g>
<g id="b2-l2"><circle class="d" cx="312" cy="780" r="5.3"/></g>
<g id="b2-l3"><circle class="d" cx="330" cy="782" r="5.3"/></g>
<g id="b2-m1"><circle class="d" cx="292" cy="835" r="5.3"/></g>
<g id="b2-m2"><circle class="d" cx="312" cy="837" r="5.3"/></g>
<g id="b2-m3"><circle class="d" cx="330" cy="835" r="5.3"/></g>
<g id="b2-t5"><circle class="d" cx="397" cy="670" r="5.3"/></g>
<g id="b2-c5"><circle class="d" cx="399" cy="727" r="5.3"/></g>
<g id="b2-k1"><circle class="d" cx="361" cy="780" r="5.3"/></g>
<g id="b2-k2"><circle class="d" cx="379" cy="780" r="5.3"/></g>
<g id="b2-k3"><circle class="d" cx="399" cy="780" r="5.3"/></g>
<g id="b2-k4"><circle class="d" cx="419" cy="780" r="5.3"/></g>
<g id="b2-k5"><circle class="d" cx="440" cy="781" r="5.3"/></g>
<g id="b2-j1"><circle class="d" cx="362" cy="832" r="5.3"/></g>
<g id="b2-j2"><circle class="d" cx="381" cy="834" r="5.3"/></g>
<g id="b2-j3"><circle class="d" cx="399" cy="832" r="5.3"/></g>
<g id="b2-j4"><circle class="d" cx="421" cy="834" r="5.3"/></g>
<g id="b2-j5"><circle class="d" cx="439" cy="832" r="5.3"/></g>
<text class="n i" x="308" y="872" font-size="19">a</text>
<text class="n i" x="402" y="873" font-size="19">b</text>
<text class="f"><tspan x="222" y="922">π+η=</tspan><tspan x="284" y="902">1+(1+2<tspan class="i">a</tspan>)+(1+2<tspan class="i">b</tspan>)</tspan><tspan x="430" y="902">(<tspan class="m">l</tspan>=1)</tspan><tspan x="287" y="923">0+2<tspan class="i">a</tspan>+2<tspan class="i">b</tspan></tspan><tspan x="383" y="923">(<tspan class="m">l</tspan>=2)</tspan><tspan x="285" y="944">0+<tspan class="i">a</tspan>+<tspan class="i">b</tspan></tspan><tspan x="352" y="944">(<tspan class="m">l</tspan>=3)</tspan><tspan x="263" y="967">=3+5(<tspan class="i">a</tspan>+<tspan class="i">b</tspan>)=98</tspan></text>
</g>
<g id="fig-c2">
<text class="fig" x="521" y="663">Fig.c2</text>
<g id="c2-p1"><circle class="d" cx="530" cy="671" r="5.3"/></g>
<g id="c2-p2"><circle class="d" cx="530" cy="729" r="5.3"/></g>
<g id="c2-t3"><circle class="d" cx="565" cy="671" r="5.3"/></g>
<g id="c2-c3"><circle class="d" cx="567" cy="730" r="5.3"/></g>
<g id="c2-l1"><circle class="d" cx="550" cy="782" r="5.3"/></g>
<g id="c2-l2"><circle class="d" cx="568" cy="782" r="5.3"/></g>
<g id="c2-l3"><circle class="d" cx="587" cy="784" r="5.3"/></g>
<g id="c2-m1"><circle class="d" cx="549" cy="836" r="5.3"/></g>
<g id="c2-m2"><circle class="d" cx="568" cy="838" r="5.3"/></g>
<g id="c2-m3"><circle class="d" cx="587" cy="836" r="5.3"/></g>
<g id="c2-t5"><circle class="d" cx="654" cy="672" r="5.3"/></g>
<g id="c2-c5"><circle class="d" cx="656" cy="728" r="5.3"/></g>
<g id="c2-k1"><circle class="d" cx="620" cy="782" r="5.3"/></g>
<g id="c2-k2"><circle class="d" cx="636" cy="782" r="5.3"/></g>
<g id="c2-k3"><circle class="d" cx="656" cy="782" r="5.3"/></g>
<g id="c2-k4"><circle class="d" cx="677" cy="782" r="5.3"/></g>
<g id="c2-k5"><circle class="d" cx="697" cy="783" r="5.3"/></g>
<g id="c2-j1"><circle class="d" cx="619" cy="833" r="5.3"/></g>
<g id="c2-j2"><circle class="d" cx="638" cy="835" r="5.3"/></g>
<g id="c2-j3"><circle class="d" cx="656" cy="833" r="5.3"/></g>
<g id="c2-j4"><circle class="d" cx="679" cy="835" r="5.3"/></g>
<g id="c2-j5"><circle class="d" cx="697" cy="833" r="5.3"/></g>
<text class="n i" x="568" y="874" font-size="19">a</text>
<text class="n i" x="660" y="875" font-size="19">b</text>
<text class="n i" x="557" y="898" font-size="18">x</text>
<text class="n i" x="628" y="897" font-size="18">y</text>
<text class="g" x="676" y="895"><tspan class="i">x</tspan>+<tspan class="i">y</tspan>=11</text>
<text class="s" x="513" y="712">−</text>
<text class="s" x="550" y="713">−</text>
<text class="s" x="639" y="708">−</text>
<text class="s" x="539" y="770">+</text>
<text class="s" x="586" y="764">−</text>
<text class="s" x="617" y="763">+</text>
<text class="s" x="693" y="763">−</text>
<text class="s" x="533" y="820">−</text>
<text class="s" x="561" y="820">−</text>
<text class="s" x="588" y="824">−</text>
<text class="s" x="611" y="820">−</text>
<text class="s" x="696" y="819">−</text>
<text class="f"><tspan x="515" y="935">π=</tspan><tspan x="558" y="919">0+<tspan class="i">x</tspan>+<tspan class="i">y</tspan></tspan><tspan x="612" y="919">(<tspan class="m">l</tspan>=1)</tspan><tspan x="558" y="940">0+2<tspan class="i">x</tspan>+2<tspan class="i">y</tspan></tspan><tspan x="627" y="940">(<tspan class="m">l</tspan>=2)</tspan><tspan x="678" y="940">=4(<tspan class="i">x</tspan>+<tspan class="i">y</tspan>)=44</tspan><tspan x="558" y="961"><tspan class="i">x</tspan>+<tspan class="i">y</tspan></tspan><tspan x="590" y="961">(<tspan class="m">l</tspan>=3)</tspan></text>
</g>
</svg>
